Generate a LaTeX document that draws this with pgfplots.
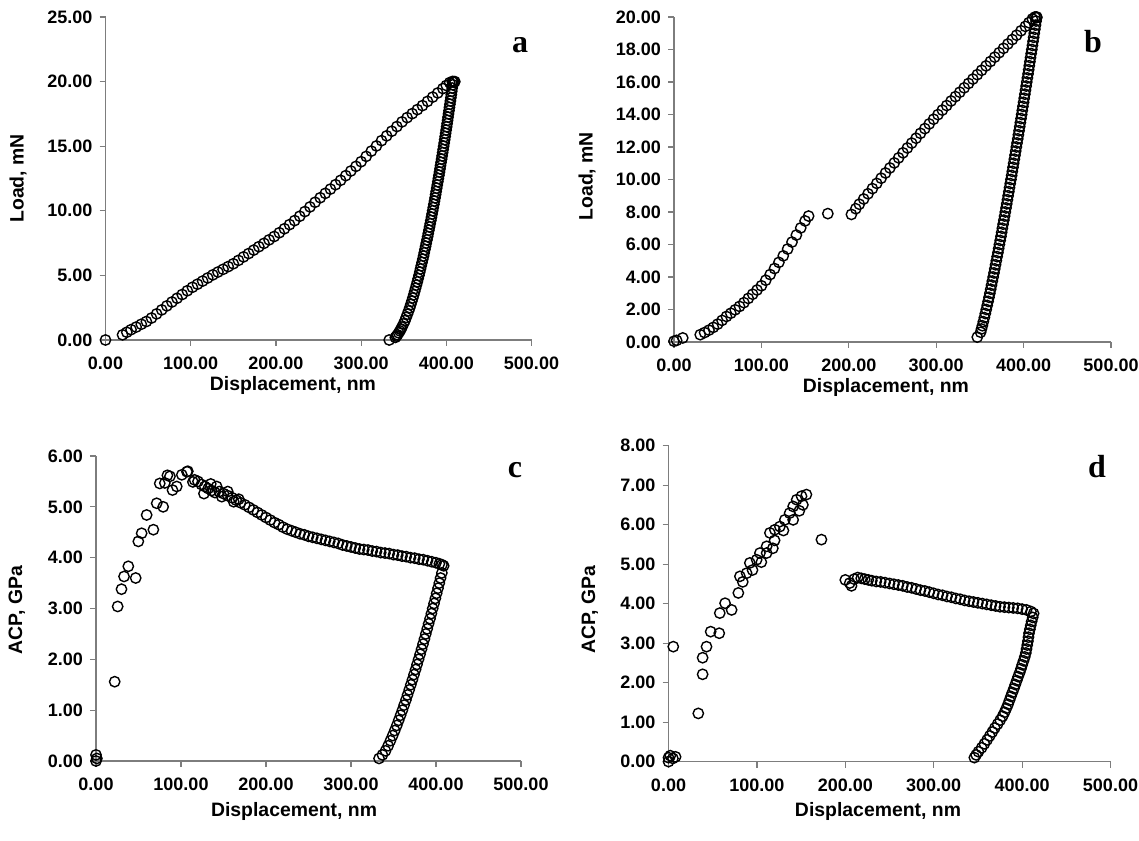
\documentclass[border=0pt]{standalone}
\usepackage{pgfplots}
\pgfplotsset{compat=1.18}
\usepackage{fontspec}
\setmainfont{Liberation Sans}
\newfontfamily\serifb{Liberation Serif}
\definecolor{axisgray}{RGB}{125,125,125}

\pgfplotsset{
  panel/.style={
    scale only axis, clip=false,
    axis x line*=bottom, axis y line*=left,
    axis line style={axisgray, line width=0.6pt, -},
    tick style={axisgray, line width=0.6pt},
    major tick length=3pt, tick align=outside,
    xmin=0, xmax=500, xtick={0,100,...,500}, ymin=0,
    tick label style={font=\fontsize{9}{10}\selectfont\bfseries},
    xticklabel style={yshift=-2pt},
    label style={font=\fontsize{9.7}{11}\selectfont\bfseries},
    /pgf/number format/fixed, /pgf/number format/fixed zerofill,
    /pgf/number format/precision=2, /pgf/number format/1000 sep={},
    /pgf/number format/assume math mode=true,
    xlabel={Displacement, nm},
  },
  dots/.style={only marks, mark=o, mark size=2.6pt,
    mark options={line width=0.7pt, draw=black}},
}

\begin{document}
\begin{tikzpicture}
\path[use as bounding box] (0,0) rectangle (569.5pt,420pt);

% ---------- a ----------
\begin{axis}[panel, at={(52.75pt,250pt)}, anchor=south west,
  width=213pt, height=161.5pt, ymax=25, ytick={0,5,...,25},
  ylabel={Load, mN},
  ylabel style={at={(axis description cs:-0.205,0.5)}, anchor=center},
  xlabel style={at={(axis description cs:0.44,-0.14)}, anchor=center}]
\addplot[dots] table {
x y
0 0
20 0.40
25 0.60
30 0.80
36 1.00
42 1.22
48 1.43
54 1.70
60 2.02
66 2.33
72 2.64
78 2.94
84 3.23
90 3.52
96 3.81
102 4.08
108 4.32
114 4.56
120 4.80
126 5.04
132 5.26
138 5.47
144 5.68
150 5.90
156 6.16
162 6.43
168 6.69
174 6.96
180 7.22
186 7.48
192 7.75
198 8.01
204 8.30
210 8.61
216 8.93
222 9.24
228 9.58
234 9.94
240 10.30
246 10.66
252 11.01
258 11.35
264 11.68
270 12.02
276 12.36
282 12.72
288 13.08
294 13.44
300 13.80
306 14.21
312 14.62
318 15.02
324 15.43
330 15.80
336 16.16
342 16.52
348 16.88
354 17.21
360 17.52
366 17.83
372 18.14
378 18.47
384 18.80
390 19.12
396 19.46
400 19.70
404 19.92
407 20.00
409 19.95
410 20.00
};
\addplot[dots] table {
x y
408.0 20.0
407.45 19.75
406.9 19.5
406.4 19.25
405.9 19.0
405.35 18.75
404.8 18.5
404.25 18.25
403.7 18.0
403.15 17.75
402.6 17.5
402.05 17.25
401.5 17.0
400.95 16.75
400.4 16.5
399.8 16.25
399.2 16.0
398.65 15.75
398.1 15.5
397.5 15.25
396.9 15.0
396.3 14.75
395.7 14.5
395.1 14.25
394.5 14.0
393.85 13.75
393.2 13.5
392.6 13.25
392.0 13.0
391.35 12.75
390.7 12.5
390.05 12.25
389.4 12.0
388.75 11.75
388.1 11.5
387.45 11.25
386.8 11.0
386.1 10.75
385.4 10.5
384.7 10.25
384.0 10.0
383.3 9.75
382.6 9.5
381.85 9.25
381.1 9.0
380.35 8.75
379.6 8.5
378.85 8.25
378.1 8.0
377.3 7.75
376.5 7.5
375.7 7.25
374.9 7.0
374.1 6.75
373.3 6.5
372.4 6.25
371.5 6.0
370.6 5.75
369.7 5.5
368.8 5.25
367.9 5.0
366.95 4.75
366.0 4.5
364.95 4.25
363.9 4.0
362.85 3.75
361.8 3.5
360.65 3.25
359.5 3.0
358.3 2.75
357.1 2.5
355.75 2.25
354.4 2.0
352.95 1.75
351.5 1.5
349.75 1.25
348.0 1.0
346.8 0.85
345.6 0.7
344.15 0.55
342.7 0.4
341.45 0.30
340.2 0.2
333.0 0.0
};
\end{axis}

% ---------- b ----------
\begin{axis}[panel, at={(337pt,249pt)}, anchor=south west,
  width=218.5pt, height=162.5pt, ymax=20, ytick={0,2,...,20},
  ylabel={Load, mN},
  ylabel style={at={(axis description cs:-0.199,0.51)}, anchor=center},
  xlabel style={at={(axis description cs:0.485,-0.14)}, anchor=center}]
\addplot[dots] table {
x y
0 0.05
3 0.10
10 0.25
30 0.45
35 0.58
40 0.73
45 0.90
50 1.10
55 1.33
60 1.57
65 1.77
70 1.98
75 2.19
80 2.42
85 2.68
90 2.94
95 3.20
100 3.46
105 3.80
110 4.15
115 4.52
120 4.90
125 5.30
130 5.72
135 6.15
140 6.58
145 7.02
150 7.45
154 7.75
176 7.90
203 7.85
208 8.20
212 8.48
217 8.80
222 9.12
227 9.44
232 9.76
237 10.08
242 10.40
247 10.71
252 11.02
257 11.33
262 11.64
267 11.94
272 12.24
277 12.54
282 12.84
287 13.13
292 13.42
297 13.71
302 13.99
307 14.27
312 14.55
317 14.83
322 15.10
327 15.37
332 15.64
337 15.91
342 16.18
347 16.45
352 16.72
357 16.99
362 17.26
367 17.53
372 17.80
377 18.07
382 18.34
387 18.61
392 18.88
397 19.15
402 19.42
406 19.65
410 19.88
413 20.00
415 19.96
};
\addplot[dots] table {
x y
415.0 20.0
414.3 19.75
413.6 19.5
412.9 19.25
412.2 19.0
411.5 18.75
410.8 18.5
410.1 18.25
409.4 18.0
408.65 17.75
407.9 17.5
407.2 17.25
406.5 17.0
405.8 16.75
405.1 16.5
404.35 16.25
403.6 16.0
402.9 15.75
402.2 15.5
401.45 15.25
400.7 15.0
399.95 14.75
399.2 14.5
398.5 14.25
397.8 14.0
397.05 13.75
396.3 13.5
395.55 13.25
394.8 13.0
394.05 12.75
393.3 12.5
392.5 12.25
391.7 12.0
390.95 11.75
390.2 11.5
389.4 11.25
388.6 11.0
387.85 10.75
387.1 10.5
386.3 10.25
385.5 10.0
384.7 9.75
383.9 9.5
383.1 9.25
382.3 9.0
381.5 8.75
380.7 8.5
379.9 8.25
379.1 8.0
378.25 7.75
377.4 7.5
376.55 7.25
375.7 7.0
374.9 6.75
374.1 6.5
373.2 6.25
372.3 6.0
371.45 5.75
370.6 5.5
369.7 5.25
368.8 5.0
367.9 4.75
367.0 4.5
366.1 4.25
365.2 4.0
364.25 3.75
363.3 3.5
362.35 3.25
361.4 3.0
360.4 2.75
359.4 2.5
358.35 2.25
357.3 2.0
356.2 1.75
355.1 1.5
353.95 1.25
352.8 1.0
351.8 0.8
350.8 0.6
347.0 0.3
};
\end{axis}

% ---------- c ----------
\begin{axis}[panel, at={(48pt,39.5pt)}, anchor=south west,
  width=212.5pt, height=152.5pt, ymax=6, ytick={0,1,...,6},
  ylabel={ACP, GPa},
  ylabel style={at={(axis description cs:-0.186,0.495)}, anchor=center},
  xlabel style={at={(axis description cs:0.466,-0.165)}, anchor=center}]
\addplot[dots] table {
x y
0 0.00
0 0.12
1 0.05
22 1.56
25.5 3.04
30 3.38
33 3.63
38 3.83
46.7 3.60
49.8 4.32
53.7 4.48
59.6 4.84
67.5 4.55
71.4 5.07
75 5.46
79 5.00
81 5.47
84 5.62
87 5.60
90 5.33
95 5.40
101 5.63
107 5.69
108 5.70
114 5.49
116 5.53
120 5.50
124 5.44
127 5.26
128 5.40
132 5.36
135 5.45
136 5.32
140 5.28
142 5.40
145 5.30
148 5.20
150 5.26
155 5.22
155 5.30
160 5.18
162 5.10
165 5.13
168 5.15
170 5.08
175 5.04
180 4.99
185 4.94
190 4.89
195 4.84
200 4.79
205 4.74
210 4.69
215 4.65
220 4.60
225 4.56
230 4.53
235 4.50
240 4.47
245 4.45
250 4.42
255 4.40
260 4.38
265 4.36
270 4.34
275 4.32
280 4.30
285 4.28
290 4.25
295 4.23
300 4.21
305 4.19
310 4.17
315 4.16
320 4.15
325 4.13
330 4.12
335 4.10
340 4.09
345 4.08
350 4.06
355 4.05
360 4.03
365 4.02
370 4.00
375 3.99
380 3.97
385 3.96
390 3.94
395 3.92
400 3.90
404 3.88
407 3.86
409 3.84
};
\addplot[dots] table {
x y
406.9 3.7
405.4 3.6
403.9 3.5
402.4 3.4
400.8 3.3
399.3 3.2
397.7 3.1
396.1 3.0
394.6 2.9
393.0 2.8
391.3 2.7
389.7 2.6
388.0 2.5
386.4 2.4
384.7 2.3
383.0 2.2
381.3 2.1
379.5 2.0
377.7 1.9
376.0 1.8
374.1 1.7
372.3 1.6
370.4 1.5
368.5 1.4
366.5 1.3
364.6 1.2
362.5 1.1
360.5 1.0
358.3 0.9
356.1 0.8
353.9 0.7
351.5 0.6
349.0 0.5
346.4 0.4
343.7 0.3
340.6 0.2
337.0 0.12
333.0 0.05
};
\end{axis}

% ---------- d ----------
\begin{axis}[panel, at={(334.25pt,39.2pt)}, anchor=south west,
  width=221pt, height=158pt, ymax=8, ytick={0,1,...,8},
  ylabel={ACP, GPa},
  ylabel style={at={(axis description cs:-0.178,0.48)}, anchor=center},
  xlabel style={at={(axis description cs:0.474,-0.158)}, anchor=center}]
\addplot[dots] table {
x y
0 0.00
0 0.10
2 0.15
5 0.08
8 0.12
5.4 2.91
33.7 1.22
38.6 2.21
38.6 2.63
43 2.91
47.7 3.29
57.4 3.25
58 3.76
64 4.01
71.4 3.84
79 4.27
80.8 4.69
84 4.55
88.4 4.77
92 5.03
95 4.85
99.7 5.11
103.4 5.28
105 5.05
111 5.45
111 5.28
114.7 5.79
118 5.40
120.3 5.87
120 5.60
126 5.95
130 5.85
131.6 6.12
137 6.29
141 6.46
141 6.12
145 6.63
148 6.35
150.5 6.72
152 6.50
156 6.76
173 5.62
200 4.60
205 4.52
207 4.45
210 4.62
214 4.66
218 4.64
222 4.62
226 4.60
230 4.58
235 4.56
240 4.55
245 4.53
250 4.51
255 4.49
260 4.47
265 4.45
270 4.42
275 4.40
280 4.37
285 4.34
290 4.32
295 4.29
300 4.26
305 4.23
310 4.21
315 4.18
320 4.16
325 4.13
330 4.11
335 4.08
340 4.06
345 4.04
350 4.02
355 4.00
360 3.98
365 3.96
370 3.94
375 3.92
380 3.91
385 3.90
390 3.89
395 3.88
400 3.86
405 3.84
410 3.80
413 3.75
};
\addplot[dots] table {
x y
412.0 3.65
410.8 3.55
409.8 3.45
408.8 3.35
407.8 3.25
407.2 3.15
406.6 3.05
405.8 2.95
405.0 2.85
404.2 2.75
403.0 2.65
401.6 2.55
400.1 2.45
398.7 2.35
397.2 2.25
395.5 2.15
393.9 2.05
392.3 1.95
390.7 1.85
389.0 1.75
387.3 1.65
385.7 1.55
384.1 1.45
382.2 1.35
380.2 1.25
378.0 1.15
375.2 1.05
372.3 0.95
369.1 0.85
366.3 0.75
363.4 0.65
360.4 0.55
357.3 0.45
354.2 0.35
350.6 0.25
348.0 0.17
346.0 0.10
};
\end{axis}

\begin{scope}[every node/.style={font=\serifb\bfseries\fontsize{16}{16}\selectfont}]
\node at (260pt,397.5pt) {a};
\node at (546.5pt,399pt) {b};
\node at (257.5pt,185pt) {c};
\node at (548.5pt,186.5pt) {d};
\end{scope}
\end{tikzpicture}
\end{document}
